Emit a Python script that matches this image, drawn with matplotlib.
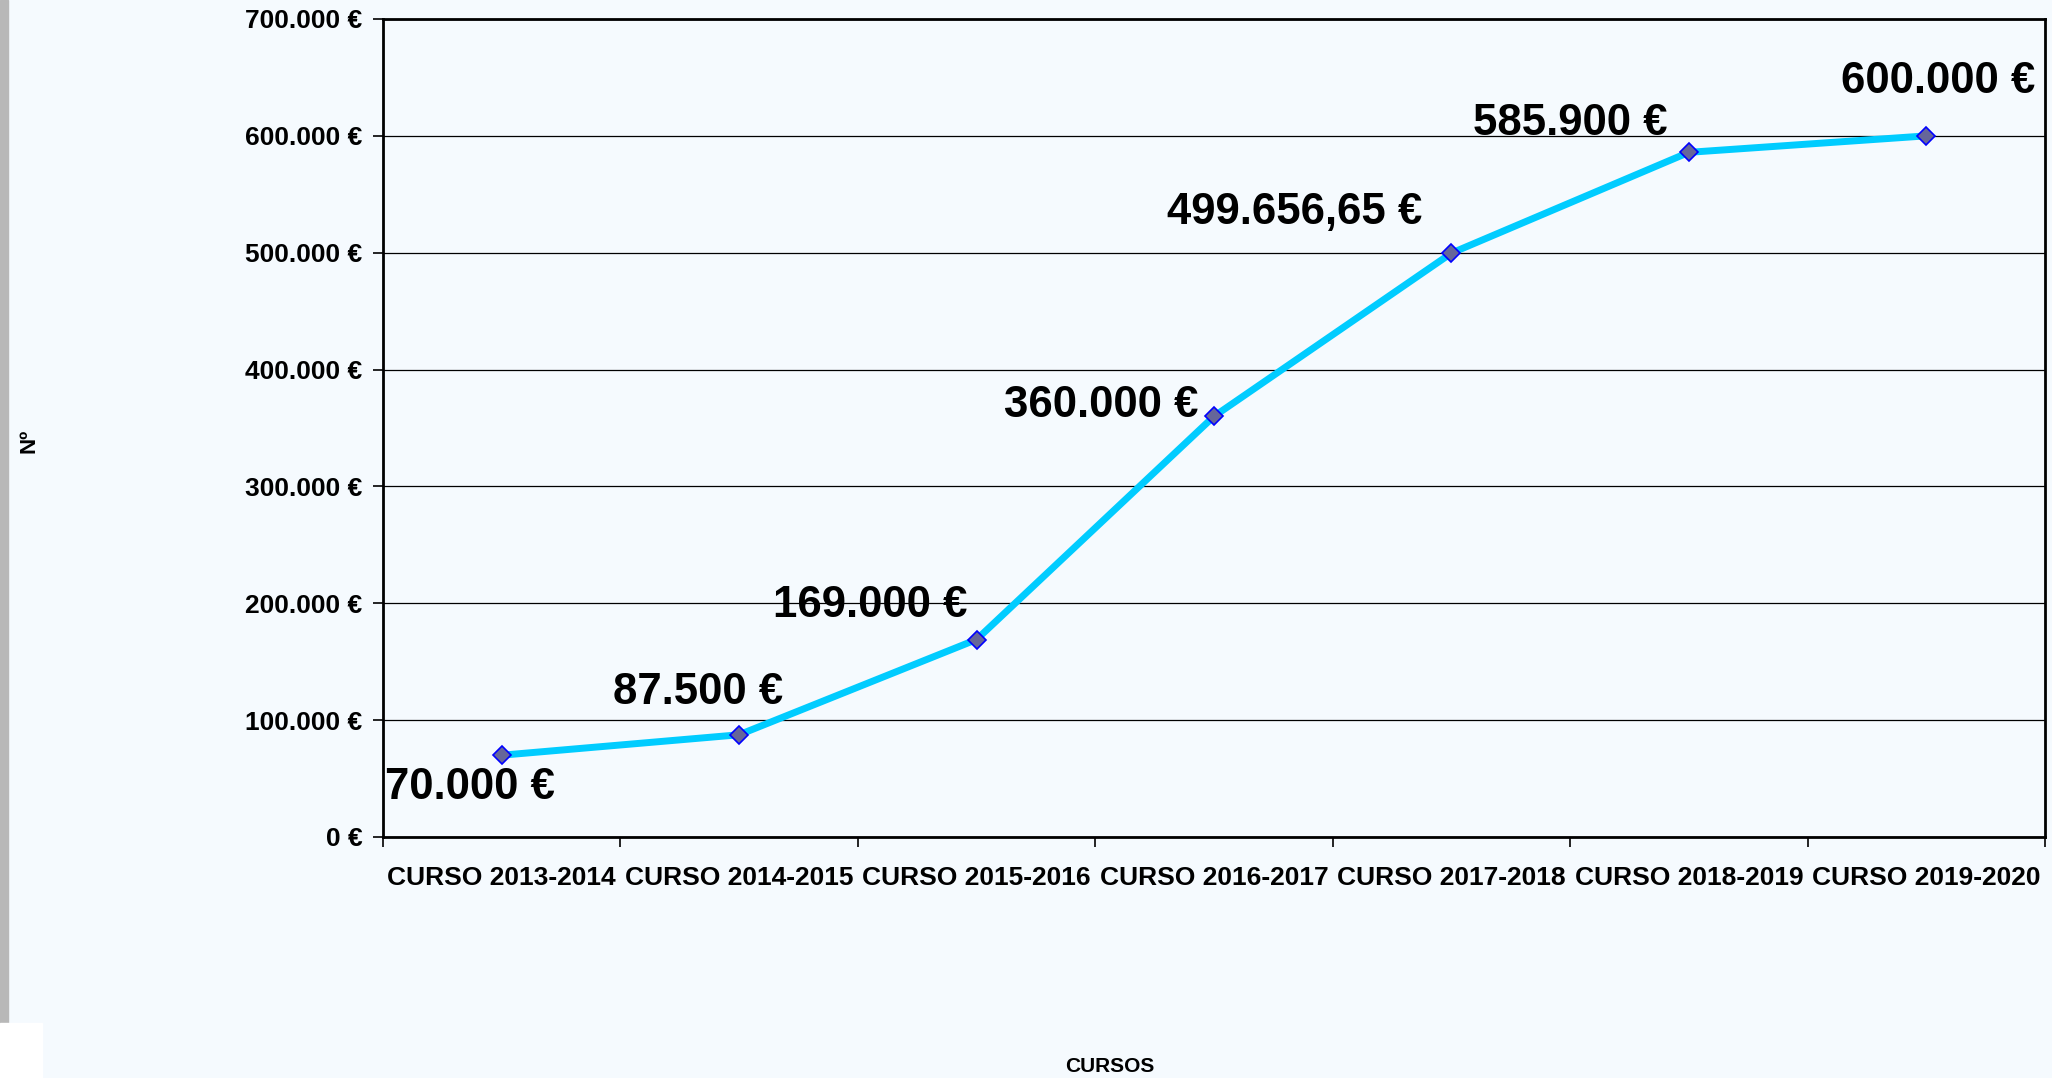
import matplotlib
matplotlib.use("Agg")
import matplotlib.pyplot as plt
from matplotlib.ticker import FuncFormatter, MultipleLocator, FixedLocator
from matplotlib.patches import Rectangle

categories = ["CURSO 2013-2014", "CURSO 2014-2015", "CURSO 2015-2016",
              "CURSO 2016-2017", "CURSO 2017-2018", "CURSO 2018-2019",
              "CURSO 2019-2020"]
values = [70000, 87500, 169000, 360000, 499656.65, 585900, 600000]
value_labels = ["70.000 €", "87.500 €", "169.000 €", "360.000 €",
                "499.656,65 €", "585.900 €", "600.000 €"]
x_title = "CURSOS"
y_title = "Nº"

# label offsets in pixels (dx, dy) from each point
label_offsets = [(-32, -32), (-41, 42), (-106, 34), (-113, 11),
                 (-157, 41), (-119, 29), (12, 54)]

plt.rcParams['font.family'] = ['Liberation Sans', 'DejaVu Sans']
plt.rcParams['font.weight'] = 'bold'

bg = '#F5FAFE'
W, H = 2052, 1078
fig = plt.figure(figsize=(W / 100, H / 100), dpi=100, facecolor=bg)
ax = fig.add_axes([383 / W, 1 - 837 / H, (2045 - 383) / W, (837 - 19) / H])
ax.set_facecolor(bg)

xs = list(range(len(categories)))
ax.plot(xs, values, color='#00CCFF', lw=5, zorder=3, solid_capstyle='round',
        marker='D', ms=9, markerfacecolor='#666699', markeredgecolor='#0000FF',
        markeredgewidth=1.2)

ax.set_xlim(-0.5, len(categories) - 0.5)
ax.set_ylim(0, 700000)
ax.yaxis.set_major_locator(MultipleLocator(100000))
ax.yaxis.set_major_formatter(FuncFormatter(
    lambda v, p: f"{int(v):,}".replace(",", ".") + " €"))
ax.set_xticks([i - 0.5 for i in range(len(categories) + 1)])
ax.set_xticklabels([])
ax.xaxis.set_minor_locator(FixedLocator(xs))
ax.set_xticks(xs, minor=True)
ax.set_xticklabels(categories, minor=True, fontsize=19, fontweight='bold')
ax.tick_params(axis='x', which='minor', length=0, pad=21)
ax.tick_params(axis='x', which='major', length=7, width=1.2, direction='out')
ax.tick_params(axis='y', length=7, width=1.2, labelsize=19, pad=8)
for lab in ax.get_yticklabels():
    lab.set_fontweight('bold')

ax.grid(axis='y', color='black', lw=0.9, zorder=1)
for s in ax.spines.values():
    s.set_linewidth(2)
    s.set_color('black')

for x, v, t, (dx, dy) in zip(xs, values, value_labels, label_offsets):
    ax.annotate(t, (x, v), xytext=(dx, dy), textcoords='offset pixels',
                ha='center', va='center', fontsize=31.5, fontweight='bold',
                zorder=4)

fig.text(1110 / W, 1 - 1066 / H, x_title, ha='center', va='center',
         fontsize=15, fontweight='bold')
fig.text(29 / W, 1 - 441 / H, y_title, ha='center', va='center',
         fontsize=16, fontweight='bold', rotation=90)

# decorative edges
fig.patches.append(Rectangle((0, 1 - 1023 / H), 8 / W, 1023 / H,
                             transform=fig.transFigure, color='#B8B8B8',
                             zorder=0))
fig.patches.append(Rectangle((0, 0), 42 / W, 55 / H,
                             transform=fig.transFigure, color='white',
                             zorder=0))

fig.savefig("out.png", dpi=100, facecolor=bg)
